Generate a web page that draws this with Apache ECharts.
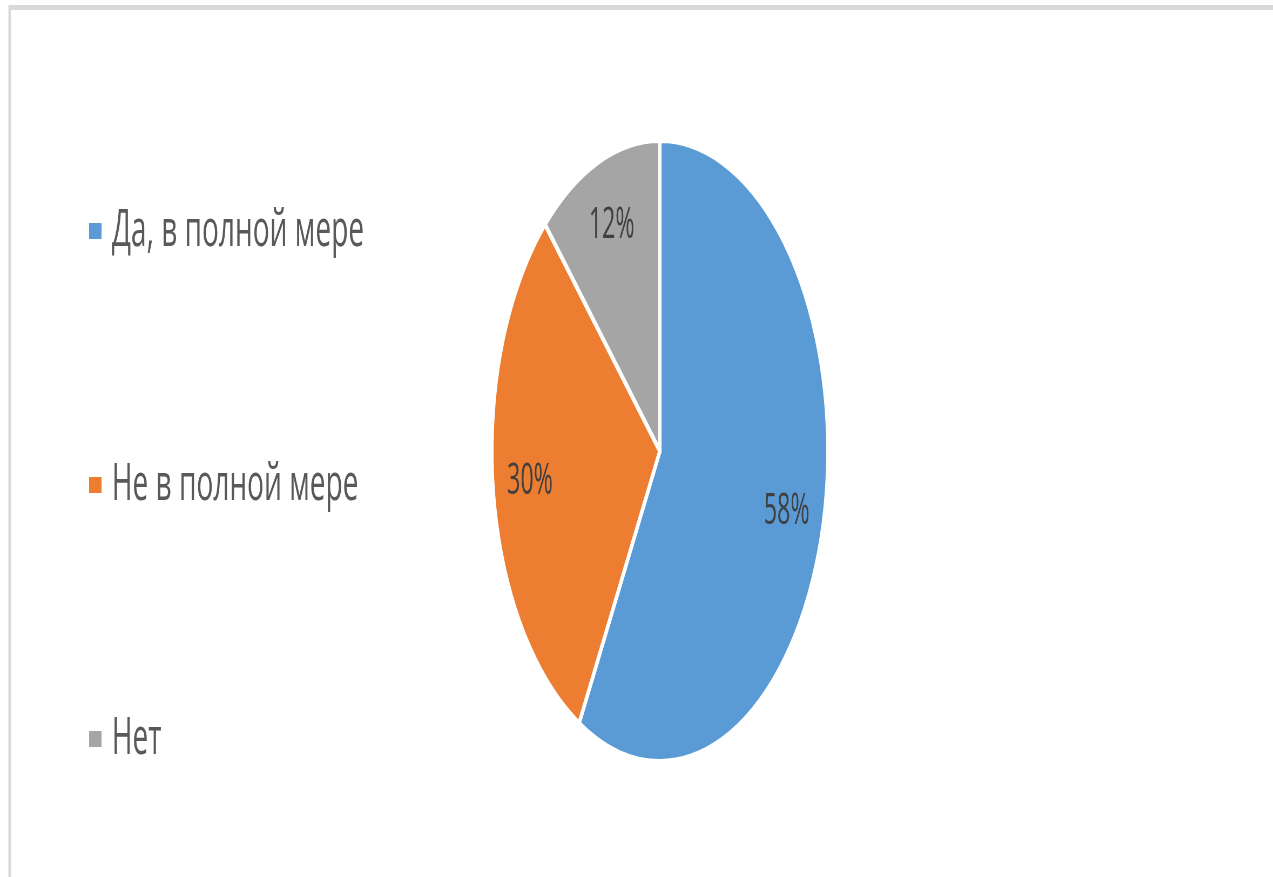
<!DOCTYPE html>
<html>
<head>
<meta charset="utf-8">
<title>Pie</title>
<script src="https://cdn.jsdelivr.net/npm/echarts@6/dist/echarts.min.js"></script>
<style>
  html, body { margin: 0; padding: 0; background: #ffffff; overflow: hidden; }
  /* the chart is drawn wide and squeezed horizontally, giving the oval pie and narrow lettering */
  #chart { width: 2358px; height: 877px; transform: scaleX(0.54); transform-origin: 0 0; }
</style>
</head>
<body>
<div id="chart"></div>
<script>
const categories = ['Да, в полной мере', 'Не в полной мере', 'Нет'];
const shares = [58, 30, 12];
const sliceColors = ['#5B9BD5', '#ED7D31', '#A5A5A5'];

const slices = categories.map((name, i) => ({
  name: name,
  value: shares[i],
  itemStyle: { color: sliceColors[i] }
}));

const chart = echarts.init(document.getElementById('chart'), null, { renderer: 'canvas' });

const center = [1222, 451];
const radius = 311;

chart.setOption({
  animation: false,
  backgroundColor: '#ffffff',
  graphic: [{
    type: 'rect',
    shape: { x: 18, y: 7.5, width: 4000, height: 2000 },
    style: { fill: 'none', stroke: '#d9d9d9', lineWidth: 5 },
    silent: true
  }],
  legend: {
    orient: 'vertical',
    left: 158,
    top: 199,
    itemWidth: 25,
    itemHeight: 18,
    itemGap: 200,
    icon: 'rect',
    data: categories,
    textStyle: {
      fontFamily: 'Open Sans',
      fontSize: 52,
      lineHeight: 54,
      color: '#595959',
      padding: [0, 0, 0, 13]
    }
  },
  series: [
    {
      type: 'pie',
      center: center,
      radius: [0, radius],
      startAngle: 90,
      clockwise: true,
      data: slices,
      label: { show: false },
      labelLine: { show: false },
      itemStyle: { borderColor: '#ffffff', borderWidth: 6 },
      emphasis: { disabled: true }
    },
    {
      // ring used only to place the percentage labels further out along each slice
      type: 'pie',
      center: center,
      radius: [radius * 0.54, radius],
      startAngle: 90,
      clockwise: true,
      silent: true,
      data: slices.map(s => ({ name: s.name, value: s.value, itemStyle: { color: 'rgba(0,0,0,0)' } })),
      itemStyle: { borderWidth: 0 },
      label: {
        show: true,
        position: 'inside',
        formatter: '{c}%',
        fontFamily: 'Open Sans',
        fontSize: 43,
        color: '#404040'
      },
      labelLine: { show: false },
      emphasis: { disabled: true }
    }
  ]
});
</script>
</body>
</html>
